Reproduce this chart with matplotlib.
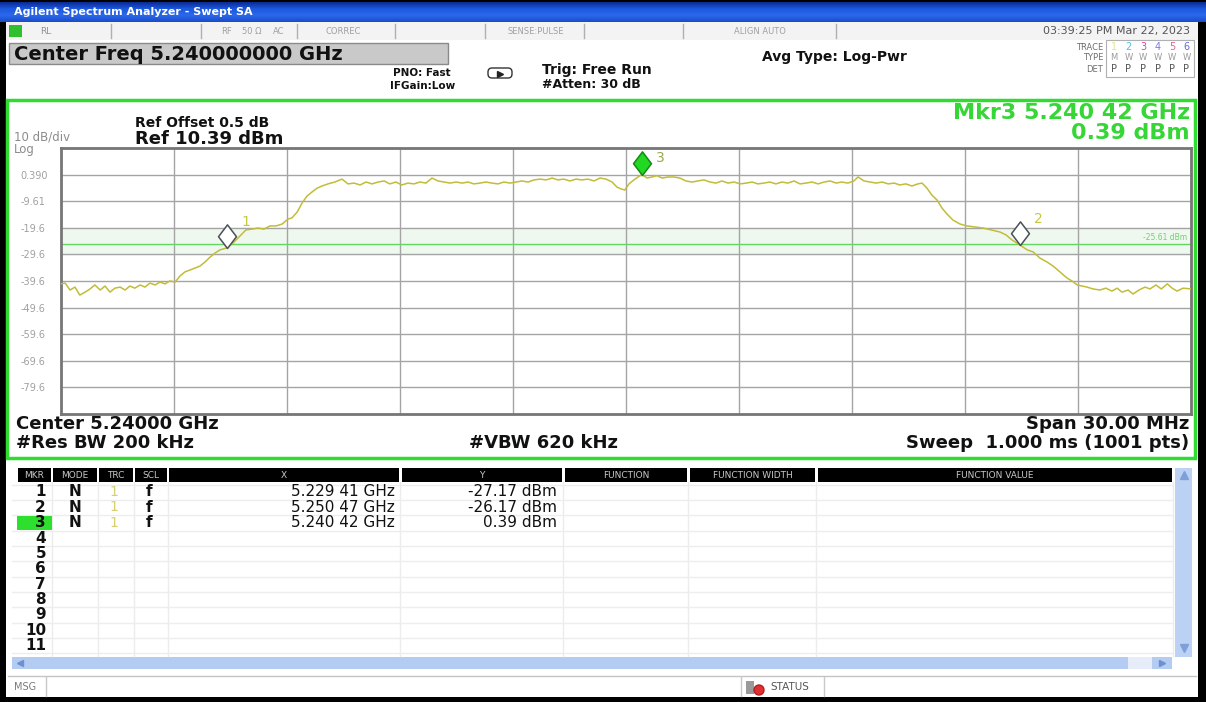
import numpy as np
import matplotlib.pyplot as plt
from matplotlib.patches import Rectangle, Circle, FancyBboxPatch
from matplotlib.path import Path
from matplotlib.colors import LinearSegmentedColormap
import matplotlib.transforms as mtransforms

W, H = 1206, 702

# trace (MHz above the start frequency, dBm)
trace_mhz = [0.00, 0.11, 0.24, 0.37, 0.50, 0.64, 0.77, 0.90,
             1.04, 1.17, 1.30, 1.43, 1.57, 1.70, 1.83, 1.96,
             2.10, 2.23, 2.36, 2.50, 2.63, 2.76, 2.89, 3.03,
             3.16, 3.29, 3.42, 3.56, 3.69, 3.82, 3.96, 4.09,
             4.22, 4.41, 4.57, 4.75, 4.91, 5.07, 5.23, 5.39,
             5.55, 5.71, 5.87, 6.03, 6.13, 6.27, 6.40, 6.53,
             6.66, 6.80, 6.93, 7.09, 7.27, 7.46, 7.62, 7.78,
             7.94, 8.10, 8.26, 8.42, 8.58, 8.73, 8.89, 9.05,
             9.21, 9.37, 9.53, 9.69, 9.85, 10.01, 10.17, 10.33,
             10.49, 10.65, 10.81, 10.96, 11.12, 11.28, 11.44, 11.60,
             11.76, 11.92, 12.08, 12.24, 12.40, 12.56, 12.72, 12.88,
             13.04, 13.19, 13.35, 13.51, 13.67, 13.83, 13.99, 14.15,
             14.31, 14.47, 14.63, 14.76, 14.87, 14.97, 15.08, 15.21,
             15.32, 15.42, 15.56, 15.69, 15.82, 15.96, 16.12, 16.27,
             16.43, 16.59, 16.75, 16.91, 17.07, 17.23, 17.39, 17.55,
             17.71, 17.87, 18.03, 18.19, 18.35, 18.50, 18.66, 18.82,
             18.98, 19.14, 19.30, 19.46, 19.62, 19.78, 19.94, 20.10,
             20.26, 20.42, 20.58, 20.73, 20.89, 21.05, 21.16, 21.32,
             21.48, 21.64, 21.80, 21.96, 22.12, 22.27, 22.43, 22.59,
             22.75, 22.86, 22.99, 23.12, 23.26, 23.39, 23.52, 23.68,
             23.87, 24.05, 24.27, 24.48, 24.69, 24.93, 25.09, 25.25,
             25.47, 25.65, 25.81, 25.99, 26.18, 26.34, 26.52, 26.71,
             26.84, 26.98, 27.11, 27.24, 27.40, 27.58, 27.74, 27.90,
             28.04, 28.17, 28.33, 28.46, 28.62, 28.78, 28.91, 29.07,
             29.21, 29.37, 29.50, 29.63, 29.79, 30.00]
trace_dbm = [-40.7, -40.4, -43.0, -41.9, -44.9, -43.8, -42.6, -41.1,
             -43.0, -41.5, -43.8, -42.3, -41.9, -43.0, -41.5, -42.3,
             -41.1, -41.9, -40.4, -41.1, -40.0, -40.7, -39.6, -40.0,
             -37.7, -36.2, -35.5, -34.7, -34.0, -32.5, -30.6, -29.1,
             -27.9, -27.17, -25.3, -22.7, -20.4, -20.1, -19.7, -20.1,
             -18.9, -18.9, -18.2, -16.3, -15.9, -13.7, -10.3, -7.7,
             -6.2, -4.7, -3.9, -3.1, -2.4, -1.3, -3.1, -2.8,
             -3.5, -2.4, -3.1, -2.4, -2.0, -3.1, -2.4, -3.5,
             -2.8, -3.1, -2.4, -2.8, -0.9, -2.0, -2.4, -2.8,
             -2.4, -2.8, -2.4, -3.1, -2.8, -2.4, -2.8, -3.1,
             -2.4, -2.8, -2.4, -2.0, -2.4, -1.6, -1.3, -1.6,
             -0.9, -1.6, -1.3, -2.0, -1.3, -1.6, -1.3, -2.0,
             -0.9, -1.3, -2.4, -4.3, -5.0, -5.4, -3.1, -1.6,
             -0.5, 0.39, -0.9, -0.5, 0.0, -0.9, -0.5, -0.5,
             -0.9, -2.0, -2.4, -2.0, -1.6, -2.4, -2.8, -2.0,
             -2.8, -2.4, -3.1, -2.8, -2.4, -3.1, -2.8, -2.4,
             -3.1, -2.4, -2.8, -2.0, -3.1, -2.8, -2.4, -3.1,
             -2.4, -2.0, -2.8, -2.4, -2.8, -2.0, -0.5, -2.0,
             -2.4, -2.8, -2.4, -3.1, -2.8, -3.5, -3.1, -3.9,
             -3.1, -2.8, -4.7, -7.3, -9.2, -12.2, -14.4, -16.7,
             -18.2, -18.9, -19.3, -19.7, -20.4, -21.2, -22.3, -24.2,
             -26.17, -27.9, -28.7, -31.0, -32.5, -34.0, -36.2, -38.5,
             -39.6, -41.1, -41.5, -41.9, -42.6, -43.0, -42.3, -43.4,
             -42.3, -43.8, -43.0, -44.5, -43.0, -41.9, -42.6, -41.1,
             -42.6, -40.7, -42.3, -43.4, -42.3, -42.6]

start_ghz = 5.225
stop_ghz = 5.255
ref_level = 10.39
db_per_div = 10
y_labels = ["0.390", "-9.61", "-19.6", "-29.6", "-39.6", "-49.6", "-59.6", "-69.6", "-79.6"]
display_line = -25.61

marker_ids = [1, 2, 3]
marker_ghz = [5.22941, 5.25047, 5.24042]
marker_dbm = [-27.17, -26.17, 0.39]

table_rows = ["1", "2", "3", "4", "5", "6", "7", "8", "9", "10", "11"]
table_mode = ["N", "N", "N"]
table_trc = ["1", "1", "1"]
table_scl = ["f", "f", "f"]
table_cols = ["MKR", "MODE", "TRC", "SCL", "X", "Y", "FUNCTION", "FUNCTION WIDTH", "FUNCTION VALUE"]


def fmt_ghz(v):
    s = f"{v:.5f}"
    return s[:5] + " " + s[5:]


fig = plt.figure(figsize=(W / 100, H / 100), dpi=100, facecolor="black")
bg = fig.add_axes([0, 0, 1, 1])
bg.axis("off")


def box(x0, y0, x1, y1, fc, ec="none", lw=0, z=1):
    bg.add_patch(Rectangle((x0, y0), x1 - x0, y1 - y0, facecolor=fc,
                           edgecolor=ec, linewidth=lw, zorder=z))


def txt(x, y, s, size, color="#111111", weight="bold", ha="left", va="center", z=5):
    bg.text(x, y, s, fontsize=size, color=color, fontweight=weight,
            ha=ha, va=va, zorder=z)


def vline(x, y0, y1, color="#b0b0b0", lw=1, z=2):
    bg.plot([x, x], [y0, y1], color=color, lw=lw, zorder=z)


# window body
box(6, 22, 1198, 697, "white")

# title bar
grad = LinearSegmentedColormap.from_list("tb", ["#0a2b94", "#1d58de", "#2b68ec", "#1a4cc8"])
bg.imshow(np.linspace(0, 1, 40)[:, None], extent=(0, W, 22, 2), cmap=grad,
          aspect="auto", zorder=1)
txt(14, 12, "Agilent Spectrum Analyzer - Swept SA", 8, color="white")

# status row
box(6, 22, 1198, 40, "#f3f3f3")
box(9, 25, 22, 37, "#2fbf2f")
for x in [111, 201, 297, 395, 485, 584, 683, 836]:
    vline(x, 24, 38)
for x, s in [(226, "RF"), (252, "50 Ω"), (279, "AC"), (343, "CORREC"),
             (536, "SENSE:PULSE"), (760, "ALIGN AUTO")]:
    txt(x, 31, s, 6, color="#a0a0a0", weight="normal", ha="center")
txt(40, 31, "RL", 6.5, color="#909090", weight="normal")
txt(1190, 31, "03:39:25 PM Mar 22, 2023", 8, color="#555555", weight="normal", ha="right")

# center freq box and settings
box(9, 43, 448, 64, "#c9c9c9", ec="#8a8a8a", lw=1)
txt(14, 54, "Center Freq 5.240000000 GHz", 14)
txt(393, 73, "PNO: Fast", 7.5)
txt(390, 86, "IFGain:Low", 7.5)
bg.add_patch(FancyBboxPatch((489, 69), 22, 8, boxstyle="round,pad=1,rounding_size=4",
                            facecolor="white", edgecolor="#333333", lw=1, zorder=3))
bg.plot([500], [74], marker=">", color="#222222", ms=4, zorder=4)
txt(542, 70, "Trig: Free Run", 10)
txt(542, 85, "#Atten: 30 dB", 9)
txt(762, 57, "Avg Type: Log-Pwr", 10)

# trace status box
box(1106, 40, 1194, 77, "white", ec="#b0b0b0", lw=0.8)
for y, s in [(47, "TRACE"), (58, "TYPE"), (69, "DET")]:
    txt(1103, y, s, 6, color="#707070", weight="normal", ha="right")
trace_colors = ["#e6e68a", "#40c8e8", "#e040b0", "#7a7ae8", "#e86090", "#5a6ae0"]
for i, c in enumerate(trace_colors):
    xi = 1114 + i * 14.5
    txt(xi, 47, str(i + 1), 7, color=c, weight="normal", ha="center")
    txt(xi, 58, "M" if i == 0 else "W", 6, color="#9a9a9a", weight="normal", ha="center")
    txt(xi, 69, "P", 7, color="#555555", weight="normal", ha="center")

# main green panel
box(7, 100, 1195, 458, "white", ec="#2fdc2f", lw=2.5)
txt(14, 137, "10 dB/div", 8.5, color="#8c8c8c", weight="normal")
txt(14, 150, "Log", 8.5, color="#8c8c8c", weight="normal")
txt(135, 123, "Ref Offset 0.5 dB", 10)
txt(135, 139, f"Ref {ref_level:.2f} dBm", 13)
txt(1190, 113, f"Mkr3 {fmt_ghz(marker_ghz[2])} GHz", 16, color="#35d635", ha="right")
txt(1190, 133, f"{marker_dbm[2]:.2f} dBm", 16, color="#35d635", ha="right")

txt(16, 424, "Center 5.24000 GHz", 13)
txt(16, 443, "#Res BW 200 kHz", 13)
txt(469, 443, "#VBW 620 kHz", 13)
txt(1189, 424, "Span 30.00 MHz", 13, ha="right")
txt(1189, 443, "Sweep  1.000 ms (1001 pts)", 13, ha="right")

# marker table
box(8, 461, 1196, 676, "white")
col_x = [(18, 51), (53, 97), (99, 133), (135, 167), (169, 399), (402, 562),
         (565, 687), (690, 815), (818, 1172)]
for (x0, x1), name in zip(col_x, table_cols):
    box(x0, 468, x1, 482, "black", z=2)
    txt((x0 + x1) / 2, 475, name, 6.5, color="#c8c8c8", weight="normal", ha="center")
    vline(x1 + 1, 482, 656, color="#ececec")
row_h = 15.35
for i in range(len(table_rows) + 1):
    y = 484.5 + i * row_h
    bg.plot([12, 1172], [y, y], color="#ededed", lw=1, zorder=2)
box(17, 485 + 2 * row_h, 52, 485 + 3 * row_h - 1, "#2ee02e", z=3)
for i, lab in enumerate(table_rows):
    txt(46, 492 + i * row_h, lab, 11, ha="right")
for i in range(len(marker_ids)):
    y = 492 + i * row_h
    txt(75, y, table_mode[i], 11, ha="center")
    txt(114, y, table_trc[i], 10, color="#d8d070", weight="normal", ha="center")
    txt(149, y, table_scl[i], 11, ha="center")
    txt(395, y, f"{fmt_ghz(marker_ghz[i])} GHz", 11, weight="normal", ha="right")
    txt(557, y, f"{marker_dbm[i]:.2f} dBm", 11, weight="normal", ha="right")

# scroll bars
box(1175, 468, 1192, 657, "#bcd2f5")
bg.plot([1183.5], [475], marker="^", color="#7f9fd8", ms=6, zorder=4)
bg.plot([1183.5], [648], marker="v", color="#7f9fd8", ms=6, zorder=4)
box(12, 657, 1172, 669, "#b4cbf2")
box(1128, 657, 1152, 669, "#e6edf8")
bg.plot([20], [663], marker="<", color="#6f8fd0", ms=5, zorder=4)
bg.plot([1162], [663], marker=">", color="#6f8fd0", ms=5, zorder=4)

# message row
bg.plot([8, 1196], [676, 676], color="#c4c4c4", lw=1, zorder=2)
for x in [46, 741, 824]:
    vline(x, 677, 696, color="#c8c8c8")
txt(14, 687, "MSG", 7, color="#7a7a7a", weight="normal")
box(746, 681, 754, 694, "#9a9a9a", z=3)
bg.add_patch(Circle((759, 690), 5, facecolor="#e03030", edgecolor="#b02020", zorder=4))
txt(770, 687, "STATUS", 7.5, color="#555555", weight="normal")

bg.set_xlim(0, W)
bg.set_ylim(H, 0)

# graticule
ax = fig.add_axes([61 / W, 1 - 414 / H, 1130 / W, 266 / H])
ax.set_facecolor("white")
freq = start_ghz + np.array(trace_mhz) / 1000
bottom = ref_level - 10 * db_per_div
ax.set_xlim(start_ghz, stop_ghz)
ax.set_ylim(bottom, ref_level)
ax.set_xticks(np.linspace(start_ghz, stop_ghz, 11)[1:-1], [""] * 9)
ax.set_yticks(ref_level - db_per_div * np.arange(1, 10), y_labels)
ax.grid(True, color="#a4a4a4", lw=1)
ax.set_axisbelow(True)
ax.tick_params(length=0, pad=29.5, labelsize=7, labelcolor="#a0a0a0")
for lbl in ax.get_yticklabels():
    lbl.set_horizontalalignment("left")
for sp in ax.spines.values():
    sp.set_color("#767676")
    sp.set_linewidth(2)

ax.axhspan(ref_level - 3 * db_per_div, ref_level - 4 * db_per_div, color="#eff8ef", zorder=0)
ax.axhline(display_line, color="#62d862", lw=1, zorder=2)
trans = mtransforms.blended_transform_factory(ax.transAxes, ax.transData)
ax.text(0.997, display_line + 2.5, f"{display_line:.2f} dBm", transform=trans,
        ha="right", va="center", fontsize=5.5, color="#70d070")

ax.plot(freq, trace_dbm, color="#c2bc38", lw=1.1, zorder=3)

diamond = Path([(0, 0), (-0.38, 0.5), (0, 1), (0.38, 0.5), (0, 0)],
               [Path.MOVETO, Path.LINETO, Path.LINETO, Path.LINETO, Path.CLOSEPOLY])
label_dy = [19, 19, 12]
for mid, f, v, dy in zip(marker_ids, marker_ghz, marker_dbm, label_dy):
    active = mid == 3
    ax.plot([f], [v], marker=diamond, ms=34, mfc="#22d822" if active else "white",
            mec="#138a13" if active else "#4a5058", mew=1.1, clip_on=False, zorder=5)
    ax.annotate(str(mid), (f, v), xytext=(10, dy), textcoords="offset points",
                fontsize=10, color="#9aa848" if active else "#c8c83c",
                ha="left", va="center", annotation_clip=False, zorder=6)

fig.savefig("out.png", dpi=100, facecolor=fig.get_facecolor())
